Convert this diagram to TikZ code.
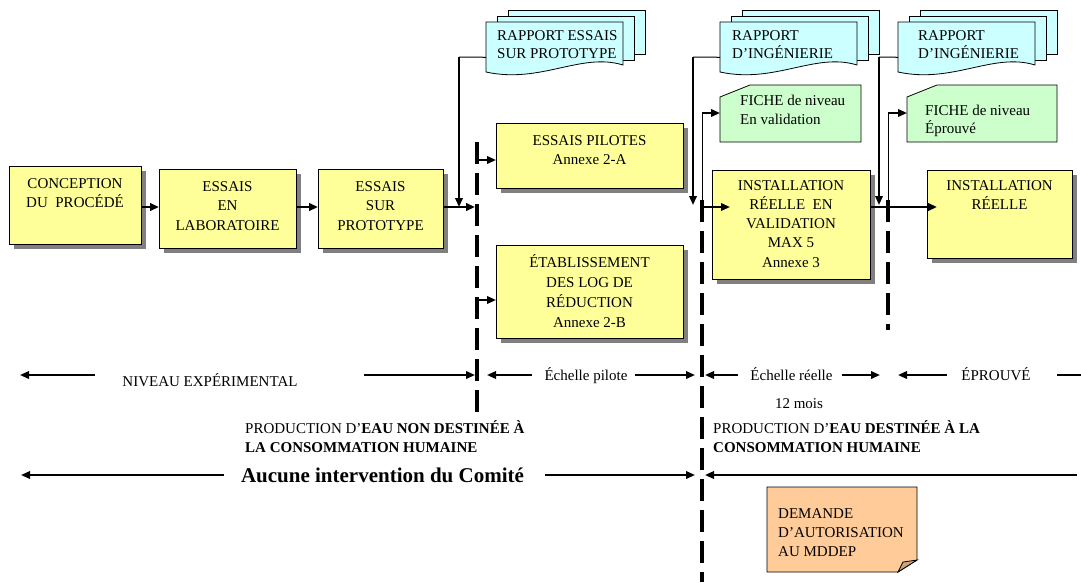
\documentclass[tikz,border=0pt]{standalone}
\usepackage{fontspec}
\setmainfont{Liberation Serif}
\usetikzlibrary{arrows.meta,shadows,calc}
\definecolor{boxyellow}{RGB}{255,255,153}
\definecolor{doccyan}{RGB}{204,255,255}
\definecolor{fichegreen}{RGB}{204,255,204}
\definecolor{noteorange}{RGB}{255,204,153}
\definecolor{shadowgray}{RGB}{128,128,128}
\newcommand\mdocshape[2]{%
  \begin{scope}[shift={(#1,#2)}]
    \draw[docpage] (22,-12) rectangle (159,32);
    \draw[docpage] (11,-6) rectangle (148,38);
    \draw[docpage] (0,0) -- (137,0) -- (137,43) .. controls (95,30) and (55,62) .. (0,50) -- cycle;
  \end{scope}}
\tikzset{
  ybox/.style={draw=black, line width=0.8pt, fill=boxyellow, anchor=north west, inner sep=0pt,
    drop shadow={shadow xshift=5pt, shadow yshift=-5pt, fill=shadowgray, opacity=1}},
  btext/.style={anchor=base, align=center, inner sep=0pt, font=\fontsize{15}{19.5}\selectfont},
  ltext/.style={anchor=base west, align=left, inner sep=0pt, font=\fontsize{15}{19}\selectfont},
  rtext/.style={anchor=base, inner sep=0pt, font=\fontsize{15}{18}\selectfont},
  frame/.style={draw=none, anchor=north west, inner sep=0pt},
  docpage/.style={draw=black, line width=0.8pt, fill=doccyan},
  tip/.style={-{Triangle[length=9pt,width=7.5pt]}},
  flow/.style={tip, line width=2.5pt},
  feed/.style={tip, line width=2pt},
  thinline/.style={line width=1pt},
  rowarrow/.style={tip, line width=2pt},
  phase/.style={line width=4pt, dash pattern=on 22pt off 9pt},
}
\begin{document}
\begin{tikzpicture}[x=1pt,y=-1pt]
\useasboundingbox (0,0) rectangle (1081,582);
\fill[white] (0,0) rectangle (1081,582);

% phase separators (dashed)
\coordinate (L1t) at (477,142); \coordinate (L1b) at (477,412);
\coordinate (L2t) at (702,200); \coordinate (L2b) at (702,582);
\coordinate (L3t) at (888,200); \coordinate (L3b) at (888,330);
\draw[phase] (L1t) -- (L1b);
\draw[phase] (L2t) -- (L2b);
\draw[phase] (L3t) -- (L3b);

% main boxes
\node[ybox, minimum width=132, minimum height=78] (b1) at (9,166) {};
\node[ybox, minimum width=137, minimum height=79] (b2) at (159,169) {};
\node[ybox, minimum width=125, minimum height=79] (b3) at (318,169) {};
\node[ybox, minimum width=187, minimum height=65] (p1) at (496,123) {};
\node[ybox, minimum width=187, minimum height=93] (e1) at (496,245) {};
\node[ybox, minimum width=158, minimum height=109] (i1) at (712,170) {};
\node[ybox, minimum width=145, minimum height=88] (i2) at (927,170) {};

\node[btext] (t1) at (75,207.5) {CONCEPTION\\DU\ \ PROCÉDÉ};
\node[btext] (t2) at (227.5,230) {ESSAIS\\EN\\LABORATOIRE};
\node[btext] (t3) at (380.5,230) {ESSAIS\\SUR\\PROTOTYPE};
\node[btext] (tp1) at (589.5,164.5) {ESSAIS PILOTES\\Annexe 2-A};
\node[btext, font=\fontsize{15}{20}\selectfont] (te1) at (589.5,327) {ÉTABLISSEMENT\\DES LOG DE\\RÉDUCTION\\Annexe 2-B};
\node[btext, font=\fontsize{15}{19.25}\selectfont] (ti1) at (791,267) {INSTALLATION\\RÉELLE\ \ EN\\VALIDATION\\MAX 5\\Annexe 3};
\node[btext] (ti2) at (999.5,209.5) {INSTALLATION\\RÉELLE};

% reports (multi-document shapes)
\mdocshape{486}{22}
\node[frame, minimum width=137, minimum height=50] (r1) at (486,22) {};
\node[ltext, font=\fontsize{15}{18}\selectfont] (tr1) at (497,58) {RAPPORT ESSAIS\\SUR PROTOTYPE};
\mdocshape{720}{22}
\node[frame, minimum width=137, minimum height=50] (r2) at (720,22) {};
\node[ltext, font=\fontsize{15}{18}\selectfont] (tr2) at (732,58) {RAPPORT\\D’INGÉNIERIE};
\mdocshape{898}{22}
\node[frame, minimum width=137, minimum height=50] (r3) at (898,22) {};
\node[ltext, font=\fontsize{15}{18}\selectfont] (tr3) at (918,58) {RAPPORT\\D’INGÉNIERIE};

% level sheets
\draw[line width=0.8pt, fill=fichegreen] (720,97) -- (750,85) -- (861,85) -- (861,142) -- (720,142) -- cycle;
\node[frame, minimum width=141, minimum height=57] (f1) at (720,85) {};
\node[ltext] (tf1) at (740,124) {FICHE de niveau\\En validation};
\draw[line width=0.8pt, fill=fichegreen] (907,97) -- (937,85) -- (1057,85) -- (1057,142) -- (907,142) -- cycle;
\node[frame, minimum width=150, minimum height=57] (f2) at (907,85) {};
\node[ltext, font=\fontsize{15}{18}\selectfont] (tf2) at (925,133) {FICHE de niveau\\Éprouvé};

% authorisation note
\draw[line width=0.8pt, fill=noteorange] (767,487) -- (917,487) -- (917,560) -- (898,572) -- (767,572) -- cycle;
\draw[line width=0.8pt, fill=noteorange!80!black] (917,560) -- (903,562) -- (898,572) -- cycle;
\node[frame, minimum width=150, minimum height=85] (d1) at (767,487) {};
\node[ltext] (td1) at (778,556) {DEMANDE\\D’AUTORISATION\\AU MDDEP};

% flow connectors
\coordinate (row) at (0,207);
\draw[flow] (b1.east |- row) -- (b2.west |- row);
\draw[flow] (b2.east |- row) -- (b3.west |- row);
\coordinate (q1) at (475,207);
\draw[flow] (b3.east |- row) -- (q1);
\coordinate (s1) at (477,160);
\draw[feed] (s1) -- (s1 -| p1.west);
\coordinate (s2) at (477,300);
\draw[feed] (s2) -- (s2 -| e1.west);
\coordinate (m1) at (702,207);
\coordinate (z1) at (730,207);
\draw[feed] (m1) -- (z1);
\coordinate (z2) at (937,207);
\draw[flow] (i1.east |- row) -- (z2);

% report connectors
\coordinate (k1) at (459,57); \coordinate (j1) at (459,207);
\draw[thinline] ($(r1.south west)!0.3!(r1.north west)$) -- (k1);
\draw[feed] (k1) -- (j1);
\coordinate (k2) at (693,57); \coordinate (j2) at (693,205);
\draw[thinline] ($(r2.south west)!0.3!(r2.north west)$) -- (k2);
\draw[feed] (k2) -- (j2);
\coordinate (k3) at (879,57); \coordinate (j3) at (879,205);
\draw[thinline] ($(r3.south west)!0.3!(r3.north west)$) -- (k3);
\draw[feed] (k3) -- (j3);

% sheet connectors
\coordinate (n1) at (702,113);
\draw[thinline] (m1) -- (n1);
\draw[feed] (n1) -- (n1 -| f1.west);
\coordinate (m2) at (888,207); \coordinate (n2) at (888,113);
\draw[thinline] (m2) -- (n2);
\draw[feed] (n2) -- (n2 -| f2.west);

% scale row
\node[rtext] (lv1) at (210,386) {NIVEAU EXPÉRIMENTAL};
\node[rtext] (lv2) at (586,380) {Échelle pilote};
\node[rtext] (lv3) at (791.5,380) {Échelle réelle};
\node[rtext] (lv4) at (996,380) {ÉPROUVÉ};
\node[rtext] (lv5) at (799,408) {12 mois};
\coordinate (a1s) at (95,375);  \coordinate (a1e) at (20,375);
\coordinate (a2s) at (364,375); \coordinate (a2e) at (475,375);
\coordinate (a3s) at (532,375); \coordinate (a3e) at (487,375);
\coordinate (a4s) at (635,375); \coordinate (a4e) at (695,375);
\coordinate (a5s) at (738,375); \coordinate (a5e) at (705,375);
\coordinate (a6s) at (842,375); \coordinate (a6e) at (880,375);
\coordinate (a7s) at (947,375); \coordinate (a7e) at (898,375);
\coordinate (a8s) at (1057,375); \coordinate (a8e) at (1081,375);
\draw[rowarrow] (a1s) -- (a1e);
\draw[rowarrow] (a2s) -- (a2e);
\draw[rowarrow] (a3s) -- (a3e);
\draw[rowarrow] (a4s) -- (a4e);
\draw[rowarrow] (a5s) -- (a5e);
\draw[rowarrow] (a6s) -- (a6e);
\draw[rowarrow] (a7s) -- (a7e);
\draw[line width=1.2pt] (a8s) -- (a8e);

% production texts
\node[ltext] (pr1) at (245,452) {PRODUCTION D’\textbf{EAU NON DESTINÉE À}\\\textbf{LA CONSOMMATION HUMAINE}};
\node[ltext] (pr2) at (713,452) {PRODUCTION D’\textbf{EAU DESTINÉE À LA}\\\textbf{CONSOMMATION HUMAINE}};

% committee row
\node[anchor=base, inner sep=0pt, font=\bfseries\fontsize{21}{24}\selectfont] (cm) at (382.5,482) {Aucune intervention du Comité};
\coordinate (c1s) at (224,475); \coordinate (c1e) at (21,475);
\coordinate (c2s) at (545,475); \coordinate (c2e) at (695,475);
\coordinate (c3s) at (1077,475); \coordinate (c3e) at (705,475);
\draw[rowarrow] (c1s) -- (c1e);
\draw[rowarrow] (c2s) -- (c2e);
\draw[rowarrow] (c3s) -- (c3e);
\end{tikzpicture}
\end{document}
